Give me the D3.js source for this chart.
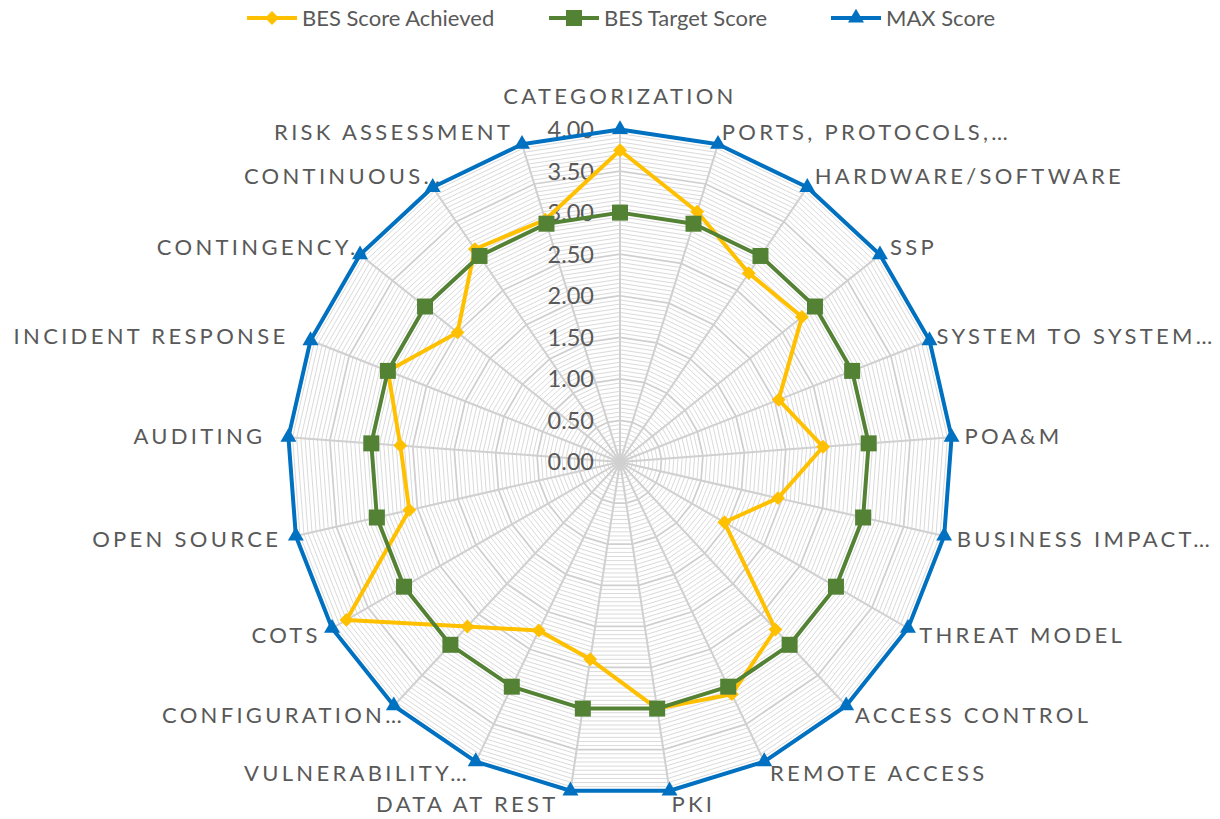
<!DOCTYPE html>
<html>
<head>
<meta charset="utf-8">
<script src="https://cdn.jsdelivr.net/npm/d3@7"></script>
<style>
  body { margin: 0; background: #fff; }
  text { font-family: Lato, "Open Sans", sans-serif; fill: #595959; }
</style>
</head>
<body>
<div id="chart"></div>
<script>
// Radar chart: BES scores per category
var categories = [
  "CATEGORIZATION", "PORTS, PROTOCOLS,\u2026", "HARDWARE/SOFTWARE", "SSP",
  "SYSTEM TO SYSTEM\u2026", "POA&M", "BUSINESS IMPACT\u2026", "THREAT MODEL",
  "ACCESS CONTROL", "REMOTE ACCESS", "PKI", "DATA AT REST", "VULNERABILITY\u2026",
  "CONFIGURATION\u2026", "COTS", "OPEN SOURCE", "AUDITING", "INCIDENT RESPONSE",
  "CONTINGENCY\u2026", "CONTINUOUS\u2026", "RISK ASSESSMENT"
];
var achieved = [3.75, 3.15, 2.75, 2.8, 2.05, 2.45, 1.95, 1.45, 2.75, 3.1, 3.0,
                2.4, 2.25, 2.7, 3.8, 2.6, 2.65, 3.0, 2.5, 3.1, 3.05];
var target = [3, 3, 3, 3, 3, 3, 3, 3, 3, 3, 3, 3, 3, 3, 3, 3, 3, 3, 3, 3, 3];
var maxScore = [4, 4, 4, 4, 4, 4, 4, 4, 4, 4, 4, 4, 4, 4, 4, 4, 4, 4, 4, 4, 4];
var tickValues = [0, 0.5, 1, 1.5, 2, 2.5, 3, 3.5, 4];
var seriesNames = ["BES Score Achieved", "BES Target Score", "MAX Score"];

var svgWidth = 1220;
var svgHeight = 819;
var cx = 620, cy = 462;
var radius = 332.5;

var svg = d3.select("#chart")
  .append("svg")
  .attr("width", svgWidth)
  .attr("height", svgHeight);

svg.append("rect").attr("width", svgWidth).attr("height", svgHeight).attr("fill", "#fff");

var chart = svg.append("g").attr("transform", "translate(" + cx + "," + cy + ")");

var rScale = d3.scaleLinear().domain([0, 4]).range([0, radius]);
var n = categories.length;
var angle = function(i) { return i * 2 * Math.PI / n; };

// grid polygons (minor then major)
var gridLine = function(v) {
  return d3.lineRadial()
    .angle(function(d, i) { return angle(i); })
    .radius(rScale(v))
    .curve(d3.curveLinearClosed)(categories);
};
var minorLevels = d3.range(1, 81).map(function(k) { return k * 0.05; })
  .filter(function(v) { return Math.abs(v * 2 - Math.round(v * 2)) > 1e-6; });

chart.append("g").selectAll("path")
  .data(minorLevels)
  .enter().append("path")
  .attr("d", gridLine)
  .attr("fill", "none")
  .attr("stroke", "#dadada")
  .attr("stroke-width", 1);

chart.append("g").selectAll("path")
  .data(tickValues.slice(1))
  .enter().append("path")
  .attr("d", gridLine)
  .attr("fill", "none")
  .attr("stroke", "#cfcfcf")
  .attr("stroke-width", 1.75);

// spokes
chart.append("g").selectAll("line")
  .data(categories)
  .enter().append("line")
  .attr("x1", 0).attr("y1", 0)
  .attr("x2", function(d, i) { return rScale(4) * Math.sin(angle(i)); })
  .attr("y2", function(d, i) { return -rScale(4) * Math.cos(angle(i)); })
  .attr("stroke", "#d0d0d0")
  .attr("stroke-width", 2);

// tick labels
chart.append("g").selectAll("text")
  .data(tickValues)
  .enter().append("text")
  .attr("x", -26)
  .attr("y", function(d) { return -rScale(d); })
  .attr("dy", "0.36em")
  .attr("text-anchor", "end")
  .attr("font-size", "23.5px")
  .text(function(d) { return d3.format(".2f")(d); });

// category labels (drawn before the series so markers sit on top)
var labelH = 20;
var labelNudge = { 4: -5, 11: -10, 13: 20, 15: -2, 16: -10, 17: -10, 18: 20, 19: 18, 20: -5 };
chart.append("g").selectAll("text")
  .data(categories)
  .enter().append("text")
  .attr("font-size", "22px")
  .attr("letter-spacing", "3.3px")
  .attr("text-anchor", function(d, i) {
    var s = Math.sin(angle(i));
    return Math.abs(s) < 0.05 ? "middle" : (s > 0 ? "start" : "end");
  })
  .attr("x", function(d, i) {
    var s = Math.sin(angle(i));
    return (rScale(4) + 3) * s + 10 * s + (labelNudge[i] || 0);
  })
  .attr("y", function(d, i) {
    var c = Math.cos(angle(i));
    var y = -(rScale(4) + 3) * c - c * labelH / 2;
    if (i === 0) y -= 20;
    return y;
  })
  .attr("dy", "0.36em")
  .text(function(d) { return d; });

// series
var series = [
  { name: seriesNames[0], values: achieved, color: "#FFC000", symbol: "diamond" },
  { name: seriesNames[1], values: target, color: "#548235", symbol: "square" },
  { name: seriesNames[2], values: maxScore, color: "#0070C0", symbol: "triangle" }
];

function markerPath(sym) {
  if (sym === "diamond") return d3.symbol(d3.symbolSquare, 96)();
  if (sym === "square") return d3.symbol(d3.symbolSquare, 256)();
  return d3.symbol(d3.symbolTriangle, 110)();
}
function markerRotate(sym) { return sym === "diamond" ? " rotate(45)" : ""; }

var radarLine = d3.lineRadial()
  .angle(function(d, i) { return angle(i); })
  .radius(function(d) { return rScale(d); })
  .curve(d3.curveLinearClosed);

series.forEach(function(s) {
  var g = chart.append("g");
  g.append("path")
    .attr("d", radarLine(s.values))
    .attr("fill", "none")
    .attr("stroke", s.color)
    .attr("stroke-width", 4)
    .attr("stroke-linejoin", "round");
  g.selectAll("path.marker")
    .data(s.values)
    .enter().append("path")
    .attr("class", "marker")
    .attr("d", markerPath(s.symbol))
    .attr("fill", s.color)
    .attr("transform", function(d, i) {
      var x = rScale(d) * Math.sin(angle(i));
      var y = -rScale(d) * Math.cos(angle(i));
      return "translate(" + x + "," + y + ")" + markerRotate(s.symbol);
    });
});

// legend
var legendX = [247, 549, 831];
var legend = svg.append("g").selectAll("g")
  .data(series)
  .enter().append("g")
  .attr("transform", function(d, i) { return "translate(" + legendX[i] + ",18)"; });
legend.append("line")
  .attr("x1", 0).attr("x2", 50)
  .attr("stroke", function(d) { return d.color; })
  .attr("stroke-width", 4);
legend.append("path")
  .attr("d", function(d) { return markerPath(d.symbol); })
  .attr("fill", function(d) { return d.color; })
  .attr("transform", function(d) { return "translate(25,0)" + markerRotate(d.symbol); });
legend.append("text")
  .attr("x", 55)
  .attr("dy", "0.36em")
  .attr("font-size", "22px")
  .text(function(d) { return d.name; });
</script>
</body>
</html>
